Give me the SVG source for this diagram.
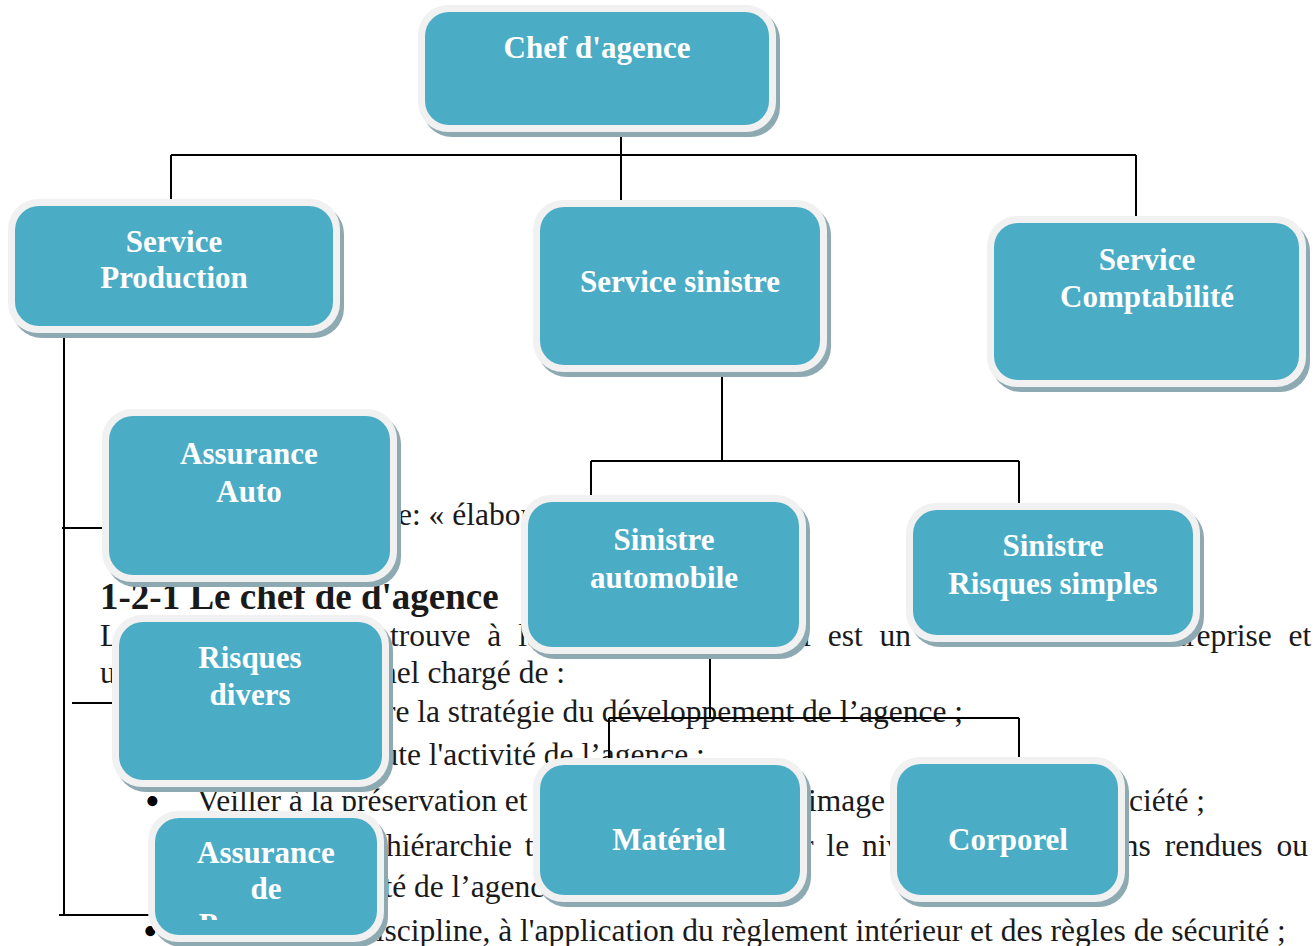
<svg xmlns="http://www.w3.org/2000/svg" width="1315" height="946" viewBox="0 0 1315 946">
<style>
.doc{font-family:"Liberation Serif","Times New Roman",serif;font-size:31.5px;fill:#1a1a1a}
.bul{font-family:"Liberation Serif","Times New Roman",serif;font-size:42px;fill:#000}
.hd{font-family:"Liberation Serif","Times New Roman",serif;font-size:37px;font-weight:bold;fill:#1a1a1a}
.sh{fill:#8DA9B2}
.bd{fill:#F1F1F1}
.in{fill:#4BACC6}
.lb{font-family:"Liberation Serif","Times New Roman",serif;font-size:31px;font-weight:bold;fill:#ffffff;text-anchor:middle}
.cn{stroke:#000;stroke-width:2;fill:none}
</style>
<defs>
<clipPath id="clipP"><rect x="155" y="818" width="222" height="102"/></clipPath>
</defs>
<rect width="1315" height="946" fill="#ffffff"/>
<g id="document-text">
<text class="doc" x="398" y="525">e: « élaborer</text>
<text class="hd" x="100" y="609">1-2-1 Le chef de d'agence</text>
<text class="doc" x="100" y="646" word-spacing="9">Le chef d'agence se trouve à la tête de l'agence, il est un véritable chef d'entreprise et</text>
<text class="doc" x="100" y="683">un</text>
<text class="doc" x="565" y="683" text-anchor="end">opérationnel chargé de :</text>
<text class="doc" x="963" y="722" text-anchor="end">mettre en œuvre la stratégie du développement de l’agence ;</text>
<text class="doc" x="358" y="765">toute l'activité de l’agence ;</text>
<text class="bul" x="145" y="815">•</text>
<text class="doc" x="197" y="811">Veiller à la préservation et à l'amélioration</text>
<text class="doc" x="808" y="811">image de</text>
<text class="doc" x="1205" y="811" text-anchor="end">société ;</text>
<text class="doc" x="386" y="856" word-spacing="5">hiérarchie tous</text>
<text class="doc" x="775" y="856" word-spacing="5">sur le niveau</text>
<text class="doc" x="1308" y="856" text-anchor="end" word-spacing="6">prestations rendues ou</text>
<text class="doc" x="299" y="897">l'activité de l’agence</text>
<text class="bul" x="143" y="945">•</text>
<text class="doc" x="360" y="941">discipline, à l'application du règlement intérieur et des règles de sécurité ;</text>
</g>
<g id="connectors">
<path class="cn" d="M621 130V202M171 155H1136M171 155V200M1136 155V218"/>
<path class="cn" d="M722 368V461M591 461H1019M591 461V498M1019 461V505"/>
<path class="cn" d="M710 652V718M609 718H1019M609 718V765M1019 718V762"/>
<path class="cn" d="M64 338V916M62 528H104M72 703H118M59 915H152"/>
</g>
<g id="node-chef">
<rect class="sh" x="422" y="10" width="358" height="127" rx="30"/>
<rect class="bd" x="418" y="5" width="358" height="127" rx="30"/>
<rect class="in" x="425" y="12" width="344" height="113" rx="24"/>
<text class="lb" x="597" y="58">Chef d'agence</text>
</g>
<g id="node-production">
<rect class="sh" x="12" y="204" width="332" height="134" rx="30"/>
<rect class="bd" x="8" y="199" width="332" height="134" rx="30"/>
<rect class="in" x="15" y="206" width="318" height="120" rx="24"/>
<text class="lb" x="174" y="252">Service</text>
<text class="lb" x="174" y="288">Production</text>
</g>
<g id="node-sinistre">
<rect class="sh" x="537" y="205" width="294" height="172" rx="30"/>
<rect class="bd" x="533" y="200" width="294" height="172" rx="30"/>
<rect class="in" x="540" y="207" width="280" height="158" rx="24"/>
<text class="lb" x="680" y="292">Service sinistre</text>
</g>
<g id="node-comptabilite">
<rect class="sh" x="991" y="221" width="319" height="171" rx="30"/>
<rect class="bd" x="987" y="216" width="319" height="171" rx="30"/>
<rect class="in" x="994" y="223" width="305" height="157" rx="24"/>
<text class="lb" x="1147" y="270">Service</text>
<text class="lb" x="1147" y="307">Comptabilité</text>
</g>
<g id="node-assurance-auto">
<rect class="sh" x="106" y="414" width="295" height="173" rx="30"/>
<rect class="bd" x="102" y="409" width="295" height="173" rx="30"/>
<rect class="in" x="109" y="416" width="281" height="159" rx="24"/>
<text class="lb" x="249" y="464">Assurance</text>
<text class="lb" x="249" y="502">Auto</text>
</g>
<g id="node-sinistre-auto">
<rect class="sh" x="525" y="500" width="285" height="159" rx="30"/>
<rect class="bd" x="521" y="495" width="285" height="159" rx="30"/>
<rect class="in" x="528" y="502" width="271" height="145" rx="24"/>
<text class="lb" x="664" y="550">Sinistre</text>
<text class="lb" x="664" y="588">automobile</text>
</g>
<g id="node-risques-simples">
<rect class="sh" x="910" y="508" width="294" height="139" rx="30"/>
<rect class="bd" x="906" y="503" width="294" height="139" rx="30"/>
<rect class="in" x="913" y="510" width="280" height="125" rx="24"/>
<text class="lb" x="1053" y="556">Sinistre</text>
<text class="lb" x="1053" y="594">Risques simples</text>
</g>
<g id="node-risques-divers">
<rect class="sh" x="116" y="620" width="277" height="172" rx="30"/>
<rect class="bd" x="112" y="615" width="277" height="172" rx="30"/>
<rect class="in" x="119" y="622" width="263" height="158" rx="24"/>
<text class="lb" x="250" y="668">Risques</text>
<text class="lb" x="250" y="705">divers</text>
</g>
<g id="node-materiel">
<rect class="sh" x="537" y="763" width="274" height="144" rx="30"/>
<rect class="bd" x="533" y="758" width="274" height="144" rx="30"/>
<rect class="in" x="540" y="765" width="260" height="130" rx="24"/>
<text class="lb" x="669" y="850">Matériel</text>
</g>
<g id="node-corporel">
<rect class="sh" x="894" y="762" width="235" height="145" rx="30"/>
<rect class="bd" x="890" y="757" width="235" height="145" rx="30"/>
<rect class="in" x="897" y="764" width="221" height="131" rx="24"/>
<text class="lb" x="1008" y="850">Corporel</text>
</g>
<g id="node-assurance-personnes">
<rect class="sh" x="152" y="816" width="236" height="131" rx="30"/>
<rect class="bd" x="148" y="811" width="236" height="131" rx="30"/>
<rect class="in" x="155" y="818" width="222" height="117" rx="24"/>
<text class="lb" x="266" y="863">Assurance</text>
<text class="lb" x="266" y="899">de</text>
<text class="lb" x="266" y="935" clip-path="url(#clipP)">Personnes</text>
</g>
</svg>
